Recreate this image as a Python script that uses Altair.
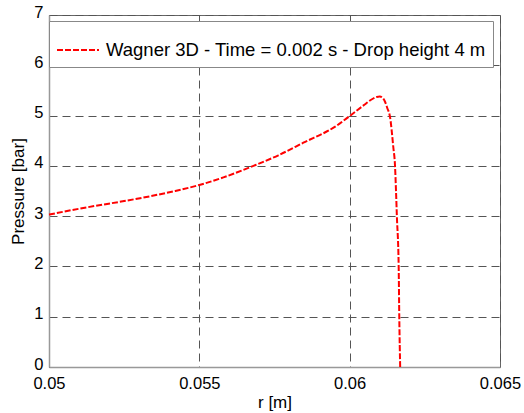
import altair as alt
import pandas as pd

r_m = [0.0500, 0.0505, 0.0515, 0.0525, 0.0534, 0.0542, 0.0550, 0.0558, 0.0568,
       0.05763, 0.05846, 0.05957, 0.0600, 0.0605, 0.0607, 0.0609, 0.0610, 0.0611,
       0.06118, 0.06125, 0.06134, 0.06145, 0.06151, 0.06154, 0.06157, 0.06163,
       0.06165, 0.06168]
pressure_bar = [3.03, 3.09, 3.20, 3.30, 3.40, 3.50, 3.62, 3.77, 4.00,
                4.21, 4.46, 4.80, 4.99, 5.22, 5.31, 5.37, 5.38, 5.35,
                5.27, 5.15, 4.98, 4.38, 3.98, 3.52, 3.00, 2.00,
                1.00, 0.00]
series_name = "Wagner 3D - Time = 0.002 s - Drop height 4 m"

x_ticks = [0.05, 0.055, 0.06, 0.065]
y_ticks = [0, 1, 2, 3, 4, 5, 6, 7]

df = pd.DataFrame({"r": r_m, "p": pressure_bar, "series": series_name,
                   "order": list(range(len(r_m)))})

FONT = "Liberation Sans"

line = alt.Chart(df).mark_line(
    strokeWidth=2, strokeDash=[6, 2], interpolate="monotone"
).encode(
    x=alt.X("r:Q", scale=alt.Scale(domain=[0.05, 0.065], nice=False, zero=False),
            axis=alt.Axis(values=x_ticks, format="~g", title="r [m]",
                          labelFlush=False, labelPadding=8)),
    y=alt.Y("p:Q", scale=alt.Scale(domain=[0, 7], nice=False),
            axis=alt.Axis(values=y_ticks, title="Pressure [bar]",
                          labelFlush=False, labelOffset=-3)),
    color=alt.Color("series:N", scale=alt.Scale(range=["#ff0000"]), title=None,
                    legend=alt.Legend(orient="none", legendX=0, legendY=6,
                                      fillColor="white", strokeColor="#888888",
                                      padding=7, symbolType="stroke",
                                      symbolSize=1764, symbolStrokeWidth=2,
                                      symbolDash=[6, 2], labelFontSize=18.5,
                                      labelFont=FONT, labelColor="black",
                                      labelOffset=6, labelLimit=600)),
    order="order:Q",
)

chart = line.properties(
    width=451, height=352,
    background="white",
    autosize=alt.AutoSizeParams(type="none"),
    padding={"left": 49, "top": 15, "right": 24, "bottom": 46},
).configure_view(
    stroke="#666666", strokeWidth=1
).configure_axis(
    grid=True, gridColor="#555555", gridDash=[8, 5], gridWidth=1, gridOpacity=1,
    domainColor="#999999", domainWidth=1.5, ticks=False,
    labelFont=FONT, labelFontSize=16.5, labelColor="black", labelPadding=6,
    titleFont=FONT, titleFontSize=17, titleFontWeight="normal", titleColor="black",
).configure_axisX(
    titlePadding=3
).configure_axisY(
    titlePadding=6
)

chart.save("out.html", embed_options={"renderer": "svg", "actions": False})
